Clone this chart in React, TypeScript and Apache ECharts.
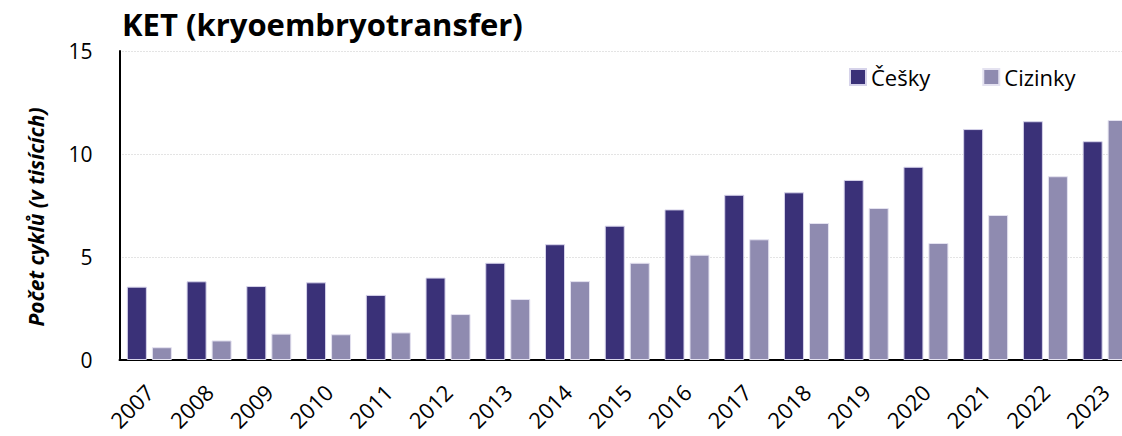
import React, { useEffect, useRef } from "react";
import * as echarts from "echarts";

const years = ["2007","2008","2009","2010","2011","2012","2013","2014","2015","2016","2017","2018","2019","2020","2021","2022","2023"];
const cesky = [3.56, 3.82, 3.59, 3.77, 3.16, 4.0, 4.72, 5.62, 6.52, 7.31, 8.02, 8.14, 8.74, 9.38, 11.21, 11.59, 10.62];
const cizinky = [0.62, 0.95, 1.28, 1.25, 1.34, 2.23, 2.96, 3.83, 4.72, 5.11, 5.86, 6.65, 7.38, 5.68, 7.04, 8.92, 11.65];
const yTicks = [0, 5, 10, 15];

const FONT = "Open Sans";

export default function App() {
  const ref = useRef<HTMLDivElement>(null);
  useEffect(() => {
    if (!ref.current) return;
    const chart = echarts.init(ref.current, undefined, { renderer: "svg" });
    chart.setOption({
      animation: false,
      backgroundColor: "#ffffff",
      textStyle: { fontFamily: FONT, color: "#000" },
      title: {
        text: "KET (kryoembryotransfer)",
        left: 122,
        top: 7,
        padding: 0,
        textStyle: { fontFamily: FONT, fontWeight: "bold", fontSize: 31, lineHeight: 34, color: "#000" },
      },
      legend: {
        left: 849,
        top: 66,
        padding: 0,
        icon: "rect",
        itemWidth: 16,
        itemHeight: 16,
        itemGap: 52,
        textStyle: { fontFamily: FONT, fontSize: 22, color: "#000" },
        data: ["Češky", "Cizinky"],
      },
      graphic: [
        {
          type: "text",
          x: 36,
          y: 217,
          rotation: Math.PI / 2,
          style: {
            text: "Počet cyklů (v tisících)",
            font: `italic bold 21px ${FONT}`,
            fill: "#000",
            align: "center",
            verticalAlign: "middle",
          },
        },
      ],
      grid: { left: 119.5, right: 0, top: 51, bottom: 76, containLabel: false },
      xAxis: {
        type: "category",
        data: years,
        axisLine: { show: true, lineStyle: { color: "#000", width: 2 } },
        axisTick: { show: false },
        axisLabel: { rotate: 45, fontSize: 22, color: "#000", margin: 28, fontFamily: FONT, interval: 0 },
      },
      yAxis: {
        type: "value",
        min: yTicks[0],
        max: yTicks[yTicks.length - 1],
        interval: 5,
        axisLine: { show: true, lineStyle: { color: "#000", width: 2 } },
        axisTick: { show: false },
        axisLabel: { fontSize: 21, color: "#000", margin: 27, fontFamily: FONT },
        splitLine: { show: true, lineStyle: { color: "#c8c8c8", type: [1, 2], width: 1 } },
      },
      series: [
        {
          name: "Češky",
          type: "bar",
          data: cesky,
          barWidth: 20,
          barGap: "25%",
          itemStyle: { color: "#3a3178", borderColor: "#d6d3ea", borderWidth: 1 },
        },
        {
          name: "Cizinky",
          type: "bar",
          data: cizinky,
          barWidth: 20,
          barGap: "25%",
          itemStyle: { color: "#8f8bb0", borderColor: "#e4e2f0", borderWidth: 1 },
        },
      ],
    });
    return () => chart.dispose();
  }, []);
  return (
    <div style={{ position: "absolute", left: 0, top: 0, width: 1122, height: 436, overflow: "hidden" }}>
      <div ref={ref} style={{ width: 1135, height: 436 }} />
    </div>
  );
}
